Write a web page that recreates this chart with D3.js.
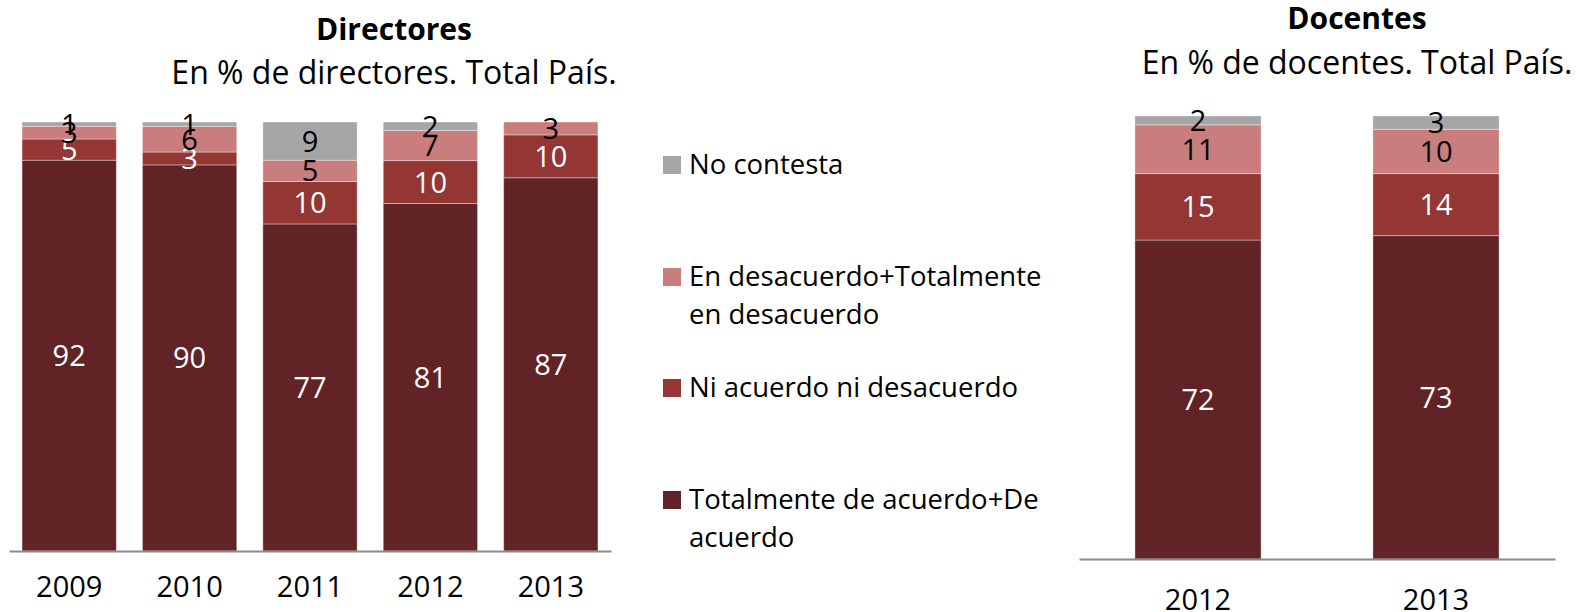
<!DOCTYPE html>
<html>
<head>
<meta charset="utf-8">
<script src="https://cdn.jsdelivr.net/npm/d3@7"></script>
<style>
  body { margin: 0; background: #fff; }
  text { font-family: "Open Sans", Lato, sans-serif; }
</style>
</head>
<body>
<svg id="chart" width="1578" height="612"></svg>
<script>
// series, bottom to top
const seriesNames = [
  "Totalmente de acuerdo+De acuerdo",
  "Ni acuerdo ni desacuerdo",
  "En desacuerdo+Totalmente en desacuerdo",
  "No contesta"
];
const seriesKeys = ["acuerdo", "neutral", "desacuerdo", "noContesta"];
const seriesColors = ["#622326", "#943634", "#c97d7c", "#a6a6a6"];
const labelColors = ["#fff", "#fff", "#000", "#000"];

// Directores
const dirYears = ["2009", "2010", "2011", "2012", "2013"];
const dirAcuerdo = [92, 90, 77, 81, 87];
const dirNeutral = [5, 3, 10, 10, 10];
const dirDesacuerdo = [3, 6, 5, 7, 3];
const dirNoContesta = [1, 1, 9, 2, 0];

// Docentes
const docYears = ["2012", "2013"];
const docAcuerdo = [72, 73];
const docNeutral = [15, 14];
const docDesacuerdo = [11, 10];
const docNoContesta = [2, 3];

const svg = d3.select("#chart");

const buildRows = (years, a, n, d, nc) =>
  years.map((y, i) => ({ year: y, acuerdo: a[i], neutral: n[i], desacuerdo: d[i], noContesta: nc[i] }));

const drawPanel = (rows, opts) => {
  const g = svg.append("g");

  const x = d3.scaleBand()
    .domain(rows.map(r => r.year))
    .range(opts.xRange)
    .paddingInner(opts.padding)
    .paddingOuter(opts.padding / 2);

  const y = d3.scaleLinear().domain([0, 1]).range([opts.bottom, opts.top]);

  const stacked = d3.stack().keys(seriesKeys).offset(d3.stackOffsetExpand)(rows);

  stacked.forEach((layer, si) => {
    g.append("g").selectAll("rect")
      .data(layer)
      .join("rect")
      .attr("x", d => x(d.data.year))
      .attr("width", x.bandwidth())
      .attr("y", d => y(d[1]))
      .attr("height", d => y(d[0]) - y(d[1]))
      .attr("fill", seriesColors[si])
      .attr("stroke", "rgba(255,255,255,0.35)")
      .attr("stroke-width", 1);
  });

  stacked.forEach((layer, si) => {
    g.append("g").selectAll("text")
      .data(layer.filter(d => d.data[seriesKeys[si]] > 0))
      .join("text")
      .attr("x", d => x(d.data.year) + x.bandwidth() / 2)
      .attr("y", d => (y(d[0]) + y(d[1])) / 2)
      .attr("dy", "0.36em")
      .attr("text-anchor", "middle")
      .attr("font-size", 29)
      .attr("fill", labelColors[si])
      .text(d => d.data[seriesKeys[si]]);
  });

  const axis = g.append("g")
    .attr("transform", `translate(0,${opts.bottom})`)
    .call(d3.axisBottom(x).tickSize(0).tickPadding(opts.tickPad).tickSizeOuter(0));
  axis.select(".domain").attr("stroke", "#8c8c8c").attr("stroke-width", 2);
  axis.selectAll("text").attr("font-size", 29).attr("fill", "#000")
    .style("font-family", "'Open Sans', Lato, sans-serif");

  g.append("text")
    .attr("x", opts.titleX).attr("y", opts.titleY)
    .attr("text-anchor", "middle")
    .attr("font-size", 30).attr("font-weight", "bold")
    .text(opts.title);
  g.append("text")
    .attr("x", opts.titleX).attr("y", opts.subY)
    .attr("text-anchor", "middle")
    .attr("font-size", 32)
    .text(opts.subtitle);
};

drawPanel(buildRows(dirYears, dirAcuerdo, dirNeutral, dirDesacuerdo, dirNoContesta), {
  xRange: [9, 611], padding: 0.217, top: 122, bottom: 551, tickPad: 25,
  title: "Directores", subtitle: "En % de directores. Total País.",
  titleX: 394, titleY: 40, subY: 84
});

drawPanel(buildRows(docYears, docAcuerdo, docNeutral, docDesacuerdo, docNoContesta), {
  xRange: [1079, 1555], padding: 0.47, top: 116, bottom: 559, tickPad: 30,
  title: "Docentes", subtitle: "En % de docentes. Total País.",
  titleX: 1357, titleY: 29, subY: 74
});

// legend, top entry first
const legendItems = [
  { i: 3, y: 156, lines: ["No contesta"] },
  { i: 2, y: 268, lines: ["En desacuerdo+Totalmente", "en desacuerdo"] },
  { i: 1, y: 379, lines: ["Ni acuerdo ni desacuerdo"] },
  { i: 0, y: 491, lines: ["Totalmente de acuerdo+De", "acuerdo"] }
];
const legend = svg.append("g");
legendItems.forEach(item => {
  legend.append("rect")
    .attr("x", 663).attr("y", item.y)
    .attr("width", 18).attr("height", 18)
    .attr("fill", seriesColors[item.i]);
  item.lines.forEach((line, li) => {
    legend.append("text")
      .attr("x", 689).attr("y", item.y + 18 + li * 38)
      .attr("font-size", 27.5)
      .text(line);
  });
});
</script>
</body>
</html>
